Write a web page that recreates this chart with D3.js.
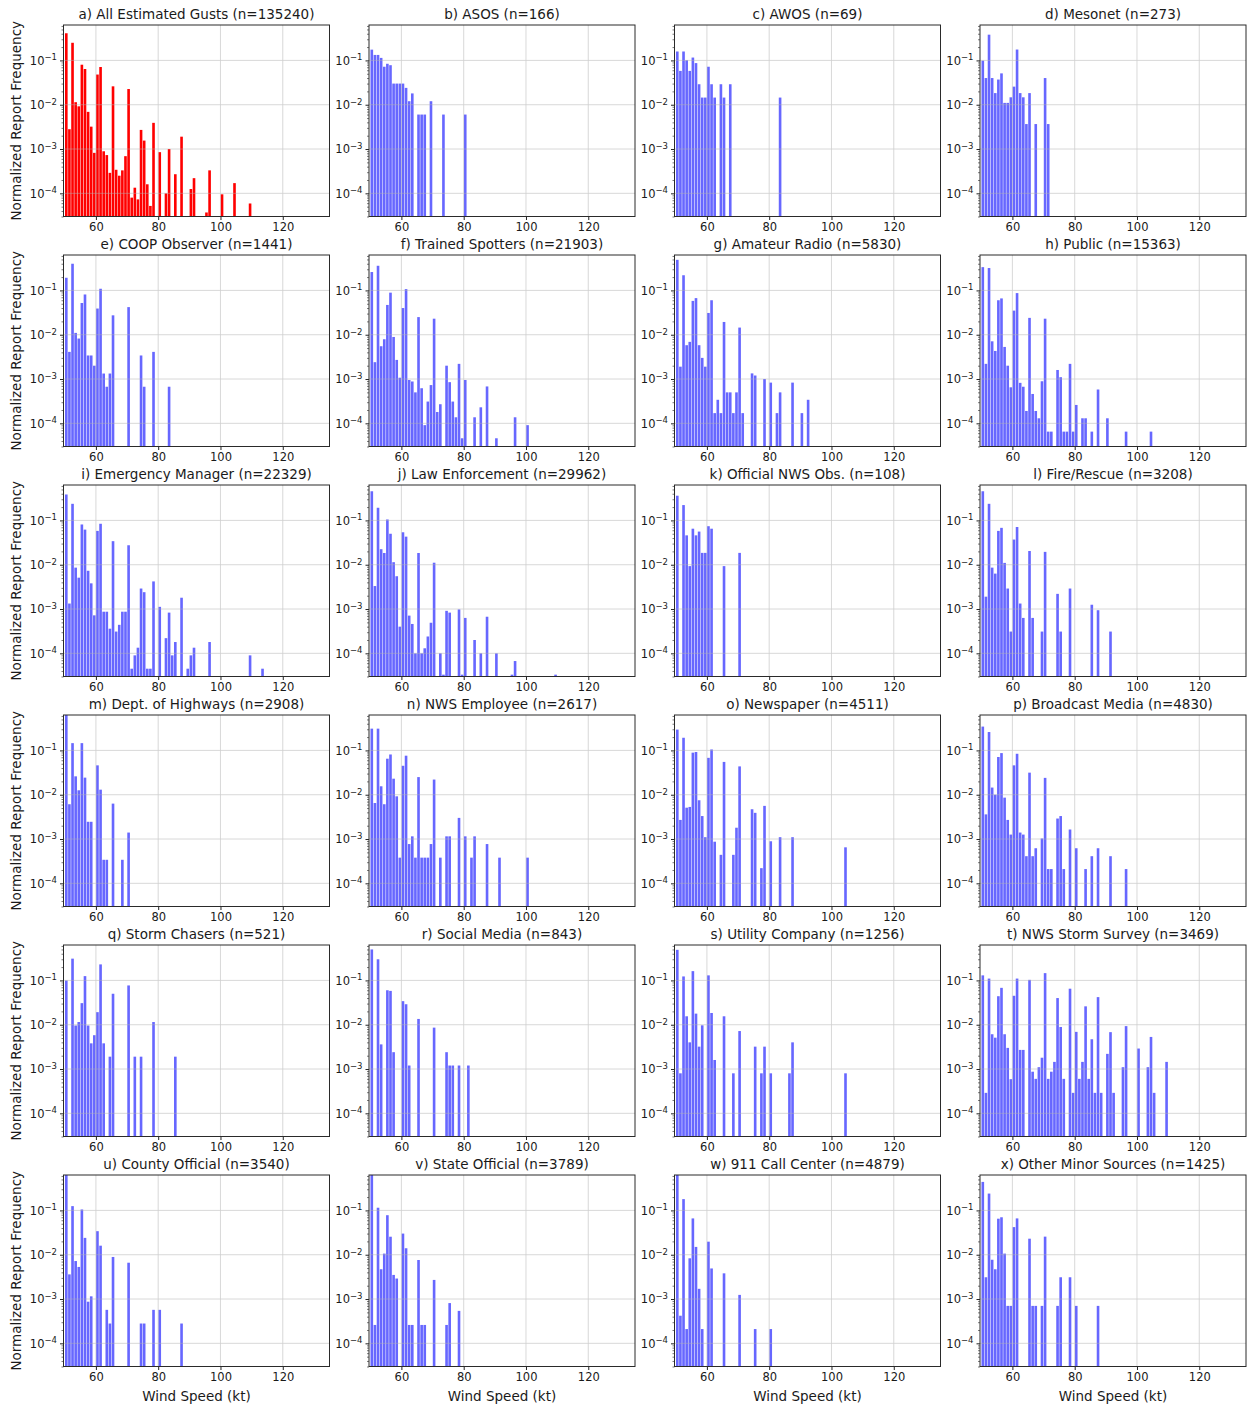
<!DOCTYPE html>
<html><head><meta charset="utf-8">
<script src="https://cdn.jsdelivr.net/npm/d3@7"></script>
<style>
body{margin:0;background:#fff}
svg{display:block}
text{font-family:"DejaVu Sans",sans-serif;fill:#1a1a1a}
</style>
</head><body>
<svg id="chart" width="1249" height="1405"></svg>
<script>
// ---------- DATA ----------
const titles = [
  "a) All Estimated Gusts", "b) ASOS", "c) AWOS", "d) Mesonet",
  "e) COOP Observer", "f) Trained Spotters", "g) Amateur Radio", "h) Public",
  "i) Emergency Manager", "j) Law Enforcement", "k) Official NWS Obs.", "l) Fire/Rescue",
  "m) Dept. of Highways", "n) NWS Employee", "o) Newspaper", "p) Broadcast Media",
  "q) Storm Chasers", "r) Social Media", "s) Utility Company", "t) NWS Storm Survey",
  "u) County Official", "v) State Official", "w) 911 Call Center", "x) Other Minor Sources"
];
const counts = [135240,166,69,273,1441,21903,5830,15363,22329,29962,108,3208,2908,2617,4511,4830,521,843,1256,3469,3540,3789,4879,1425];

// [wind speed bin (kt), normalized frequency]
const panelA = [[50,0.41],[51,0.0028],[52,0.25],[53,0.0114],[54,0.0092],[55,0.08],[56,0.064],[57,0.0069],[58,0.0032],[59,0.00082],[60,0.048],[61,0.071],[62,0.00089],[63,0.00073],[64,0.00029],[65,0.026],[66,0.00034],[67,0.00025],[68,0.00033],[69,0.00069],[70,0.0226],[71,0.00008],[72,0.000134],[73,0.000073],[74,0.0027],[75,0.00155],[76,0.00016],[77,0.000052],[78,0.0039],[80,0.00085],[82,0.0001],[83,0.001],[85,0.00027],[87,0.0019],[90,0.000125],[91,0.00022],[95,0.000037],[96,0.00033],[100,0.000095],[104,0.00017],[109,0.000059]];
const panelB = [[50,0.175],[51,0.133],[52,0.133],[53,0.114],[54,0.072],[55,0.084],[56,0.078],[57,0.030],[58,0.030],[59,0.030],[60,0.030],[61,0.024],[62,0.012],[63,0.018],[65,0.006],[66,0.006],[67,0.006],[69,0.012],[73,0.006],[80,0.006]];
const panelC = [[50,0.159],[51,0.058],[52,0.159],[53,0.101],[54,0.058],[55,0.116],[56,0.087],[57,0.029],[58,0.0145],[59,0.0145],[60,0.072],[61,0.029],[62,0.0145],[64,0.029],[65,0.0145],[67,0.029],[83,0.0145]];
const panelD = [[50,0.099],[51,0.040],[52,0.381],[53,0.040],[54,0.0183],[55,0.037],[56,0.051],[57,0.011],[58,0.011],[59,0.0147],[60,0.0256],[61,0.176],[62,0.0183],[63,0.0147],[64,0.00366],[65,0.0183],[67,0.00366],[70,0.040],[71,0.00366]];
const panelE = [[50,0.193],[51,0.0041],[52,0.40],[53,0.011],[54,0.0082],[55,0.052],[56,0.081],[57,0.0034],[58,0.0034],[59,0.002],[60,0.039],[61,0.109],[62,0.00133],[63,0.00067],[64,0.00133],[65,0.0274],[70,0.042],[74,0.0034],[75,0.00067],[78,0.0041],[83,0.00067]];
const panelF = [[50,0.26],[51,0.0024],[52,0.36],[53,0.0055],[54,0.0079],[55,0.047],[56,0.089],[57,0.0089],[58,0.0027],[59,0.00107],[60,0.040],[61,0.107],[62,0.00095],[63,0.00088],[64,0.0005],[65,0.025],[66,0.00062],[67,0.000091],[68,0.00031],[69,0.00073],[70,0.023],[71,0.00018],[72,0.00027],[74,0.002],[75,0.00085],[76,0.00031],[77,0.000137],[78,0.0022],[79,0.000046],[80,0.00095],[83,0.000137],[85,0.00023],[87,0.00068],[90,0.000046],[96,0.000137],[100,0.000091]];
const panelG = [[50,0.49],[51,0.0019],[52,0.22],[53,0.0058],[54,0.0069],[55,0.058],[56,0.067],[57,0.0058],[58,0.003],[59,0.0019],[60,0.031],[61,0.06],[62,0.00017],[63,0.00034],[64,0.00017],[65,0.0194],[66,0.0005],[67,0.0005],[68,0.00017],[69,0.0005],[70,0.0145],[71,0.00017],[74,0.00134],[75,0.0012],[78,0.001],[80,0.00083],[82,0.00017],[83,0.0005],[87,0.00083],[90,0.00017],[92,0.00034]];
const panelH = [[50,0.335],[51,0.0022],[52,0.32],[53,0.0071],[54,0.0043],[55,0.06],[56,0.066],[57,0.0053],[58,0.002],[59,0.00065],[60,0.035],[61,0.087],[62,0.00082],[63,0.00067],[64,0.00019],[65,0.024],[66,0.00046],[67,0.00019],[68,0.00013],[69,0.00089],[70,0.023],[71,0.000065],[72,0.000065],[74,0.0016],[75,0.0011],[76,0.000065],[77,0.000065],[78,0.0022],[79,0.000065],[80,0.00026],[82,0.00013],[83,0.00013],[85,0.000065],[87,0.00058],[90,0.00013],[96,0.000065],[104,0.000065]];
const panelI = [[50,0.385],[51,0.00133],[52,0.237],[53,0.0086],[54,0.0051],[55,0.081],[56,0.062],[57,0.0073],[58,0.0038],[59,0.00072],[60,0.058],[61,0.084],[62,0.00087],[63,0.00087],[64,0.00036],[65,0.034],[66,0.00031],[67,0.00044],[68,0.00087],[69,0.00087],[70,0.0275],[71,0.000045],[72,0.00009],[73,0.000134],[74,0.0029],[75,0.0024],[76,0.000045],[77,0.000045],[78,0.0042],[80,0.00112],[82,0.00022],[83,0.00083],[84,0.00009],[85,0.00018],[87,0.0018],[89,0.000045],[90,0.00009],[91,0.000134],[96,0.00018],[109,0.00009],[113,0.000045]];
const panelJ = [[50,0.455],[51,0.0033],[52,0.193],[53,0.0224],[54,0.0184],[55,0.105],[56,0.05],[57,0.0114],[58,0.0055],[59,0.0004],[60,0.054],[61,0.043],[62,0.00071],[63,0.00046],[64,0.0001],[65,0.0184],[66,0.0001],[67,0.00013],[68,0.00024],[69,0.00049],[70,0.0111],[72,0.0001],[73,0.000033],[74,0.00091],[75,0.00083],[78,0.00098],[79,0.000033],[80,0.00063],[83,0.0002],[85,0.0001],[87,0.00067],[90,0.0001],[95,0.000033],[96,0.000067],[109,0.000033]];
const panelK = [[50,0.361],[52,0.222],[53,0.046],[54,0.0093],[55,0.065],[56,0.046],[57,0.056],[58,0.0185],[59,0.0185],[60,0.074],[61,0.065],[65,0.0093],[70,0.0185]];
const panelL = [[50,0.455],[51,0.0019],[52,0.237],[53,0.0086],[54,0.0063],[55,0.058],[56,0.068],[57,0.011],[58,0.0029],[59,0.00031],[60,0.037],[61,0.071],[62,0.00133],[63,0.00063],[65,0.0204],[66,0.00063],[69,0.00031],[70,0.0195],[74,0.0022],[75,0.00031],[78,0.0029],[85,0.00125],[87,0.00094],[91,0.00031]];
const panelM = [[50,0.66],[51,0.0061],[52,0.146],[53,0.026],[54,0.0126],[55,0.146],[56,0.0243],[57,0.00245],[58,0.00245],[60,0.046],[61,0.013],[62,0.00034],[63,0.00034],[65,0.0063],[68,0.00034],[70,0.0014]];
const panelN = [[50,0.31],[51,0.0065],[52,0.31],[53,0.0155],[54,0.0061],[55,0.065],[56,0.081],[57,0.023],[58,0.0092],[59,0.00038],[60,0.045],[61,0.076],[62,0.00077],[63,0.00115],[64,0.00038],[65,0.025],[66,0.00038],[67,0.00038],[68,0.00038],[69,0.00077],[70,0.022],[72,0.00038],[74,0.00115],[75,0.00115],[78,0.003],[80,0.00115],[82,0.00038],[83,0.00115],[87,0.00077],[91,0.00038],[100,0.00038]];
const panelO = [[50,0.295],[51,0.0027],[52,0.193],[53,0.0051],[54,0.0053],[55,0.089],[56,0.092],[57,0.0075],[58,0.0033],[59,0.0011],[60,0.068],[61,0.105],[62,0.00087],[64,0.00044],[65,0.055],[68,0.00044],[69,0.0018],[70,0.0436],[74,0.0047],[75,0.0039],[77,0.00022],[78,0.0056],[80,0.00089],[83,0.0011],[87,0.0011],[104,0.00065]];
const panelP = [[50,0.345],[51,0.0036],[52,0.26],[53,0.0145],[54,0.01],[55,0.071],[56,0.087],[57,0.0086],[58,0.0027],[59,0.00126],[60,0.046],[61,0.084],[62,0.0014],[63,0.00126],[64,0.00041],[65,0.0315],[66,0.00041],[67,0.00062],[69,0.00103],[70,0.024],[71,0.00021],[72,0.00021],[74,0.0029],[75,0.0033],[76,0.00021],[78,0.00164],[80,0.00062],[83,0.00021],[85,0.00041],[87,0.00062],[91,0.00041],[96,0.00021]];
const panelQ = [[50,0.0998],[52,0.31],[53,0.0096],[54,0.0115],[55,0.0307],[56,0.125],[57,0.0096],[58,0.0038],[59,0.0058],[60,0.0192],[61,0.23],[62,0.0038],[64,0.0019],[65,0.05],[70,0.077],[72,0.0019],[74,0.0019],[78,0.0115],[85,0.0019]];
const panelR = [[50,0.5],[52,0.3],[53,0.0036],[55,0.06],[56,0.058],[57,0.0024],[60,0.034],[61,0.029],[62,0.0012],[65,0.0135],[70,0.0086],[74,0.0024],[75,0.0012],[76,0.0012],[78,0.0012],[81,0.0012]];
const panelS = [[50,0.49],[51,0.0008],[52,0.123],[53,0.0155],[54,0.004],[55,0.162],[56,0.0178],[57,0.0032],[58,0.0097],[60,0.13],[61,0.0184],[62,0.0016],[65,0.0155],[68,0.0008],[70,0.0072],[75,0.0032],[77,0.0008],[78,0.0032],[80,0.0008],[86,0.0008],[87,0.004],[104,0.0008]];
const panelT = [[50,0.13],[51,0.00029],[52,0.11],[53,0.0061],[54,0.0051],[55,0.044],[56,0.068],[57,0.0061],[58,0.003],[59,0.00059],[60,0.045],[61,0.11],[62,0.0027],[63,0.0027],[65,0.103],[66,0.00087],[67,0.0006],[68,0.0011],[69,0.0018],[70,0.146],[71,0.0006],[72,0.00087],[73,0.00145],[74,0.04],[75,0.0089],[76,0.0006],[78,0.065],[79,0.00029],[80,0.0069],[81,0.0006],[82,0.00145],[83,0.026],[84,0.0006],[85,0.0047],[86,0.00029],[87,0.042],[88,0.00029],[90,0.0022],[91,0.0068],[92,0.00029],[95,0.0011],[96,0.0093],[100,0.0029],[103,0.0011],[104,0.0053],[105,0.00029],[109,0.00145]];
const panelU = [[50,0.66],[51,0.0036],[52,0.125],[53,0.0072],[54,0.0053],[55,0.105],[56,0.024],[57,0.00087],[58,0.00115],[60,0.034],[61,0.016],[63,0.00057],[64,0.00028],[65,0.0089],[70,0.0066],[74,0.00028],[75,0.00028],[78,0.00057],[80,0.00057],[87,0.00028]];
const panelV = [[50,0.70],[51,0.00026],[52,0.115],[53,0.0047],[54,0.0106],[55,0.078],[56,0.0255],[57,0.0035],[58,0.0029],[60,0.03],[61,0.014],[62,0.00026],[63,0.00026],[65,0.0076],[66,0.00026],[67,0.00026],[70,0.0027],[74,0.00026],[75,0.00081],[78,0.00054]];
const panelW = [[50,0.70],[51,0.00042],[52,0.18],[53,0.00021],[54,0.0083],[55,0.066],[56,0.015],[57,0.0017],[58,0.00021],[60,0.0197],[61,0.0049],[65,0.0038],[70,0.00124],[75,0.00021],[80,0.00021]];
const panelX = [[50,0.44],[51,0.0031],[52,0.24],[53,0.0077],[54,0.0047],[55,0.065],[56,0.07],[57,0.0106],[58,0.0007],[59,0.0007],[60,0.042],[61,0.066],[65,0.023],[66,0.0007],[67,0.0007],[69,0.0007],[70,0.0256],[74,0.0007],[75,0.0031],[78,0.0031],[80,0.0007],[87,0.0007]];

const panelData = [panelA,panelB,panelC,panelD,panelE,panelF,panelG,panelH,panelI,panelJ,panelK,panelL,
                   panelM,panelN,panelO,panelP,panelQ,panelR,panelS,panelT,panelU,panelV,panelW,panelX];
const xTicks = [60, 80, 100, 120];
const yMajorExps = [-1, -2, -3, -4];
const xDomain = [49.6, 135];
const yDomain = [3e-5, 0.63];

// ---------- LAYOUT ----------
const colX = [63.5, 369, 674.5, 980];
const rowY = [25, 255, 485, 715, 945, 1175];
const W = 266, H = 191.5;

const svg = d3.select("#chart");
const x = d3.scaleLinear().domain(xDomain).range([0, W]);
const y = d3.scaleLog().domain(yDomain).range([H, 0]);

const yMajor = yMajorExps.map(e => Math.pow(10, e));
const yMinor = [];
for (let e = -5; e <= 0; e++) for (let m = 2; m <= 9; m++) {
  const v = m * Math.pow(10, e);
  if (v >= yDomain[0] && v <= yDomain[1]) yMinor.push(v);
}

svg.append("defs").append("clipPath").attr("id", "plotclip")
  .append("rect").attr("width", W).attr("height", H);

panelData.forEach((data, i) => {
  const col = i % 4, row = Math.floor(i / 4);
  const g = svg.append("g").attr("transform", `translate(${colX[col]},${rowY[row]})`);
  const color = i === 0 ? "#ff0000" : "#6767ff";

  // bars
  g.append("g").attr("clip-path", "url(#plotclip)")
    .selectAll("rect").data(data).join("rect")
    .attr("x", d => x(d[0] + 0.08))
    .attr("width", d => x(d[0] + 0.92) - x(d[0] + 0.08))
    .attr("y", d => y(d[1]))
    .attr("height", d => H - y(d[1]))
    .attr("fill", color);

  // grid
  const grid = g.append("g").attr("stroke", "#b0b0b0").attr("stroke-width", 0.8).attr("opacity", 0.6);
  grid.selectAll("line.vx").data(xTicks).join("line")
    .attr("x1", d => x(d)).attr("x2", d => x(d)).attr("y1", 0).attr("y2", H);
  grid.selectAll("line.hy").data(yMajor).join("line")
    .attr("x1", 0).attr("x2", W).attr("y1", d => y(d)).attr("y2", d => y(d));

  // x axis
  const xa = g.append("g").attr("transform", `translate(0,${H})`)
    .call(d3.axisBottom(x).tickValues(xTicks).tickSize(3.5).tickPadding(3).tickFormat(d3.format("d")));
  xa.select(".domain").remove();
  xa.selectAll("text").attr("font-size", 11.5).attr("font-family", "DejaVu Sans, sans-serif").attr("fill", "#1a1a1a");
  xa.selectAll("line").attr("stroke", "#222");

  // y axis minor
  const yam = g.append("g").call(d3.axisLeft(y).tickValues(yMinor).tickSize(2).tickFormat(""));
  yam.select(".domain").remove();
  yam.selectAll("line").attr("stroke", "#222").attr("stroke-width", 0.6);

  // y axis major
  const ya = g.append("g").call(d3.axisLeft(y).tickValues(yMajor).tickSize(3.5).tickPadding(3));
  ya.select(".domain").remove();
  ya.selectAll("line").attr("stroke", "#222");
  ya.selectAll("text").each(function(d) {
    const t = d3.select(this);
    const e = Math.round(Math.log10(d));
    t.text(null).attr("font-size", 11.5).attr("font-family", "DejaVu Sans, sans-serif").attr("fill", "#1a1a1a");
    t.append("tspan").text("10");
    t.append("tspan").attr("font-size", 8.5).attr("dy", "-0.5em").text("\u2212" + Math.abs(e));
  });

  // frame
  g.append("rect").attr("width", W).attr("height", H)
    .attr("fill", "none").attr("stroke", "#2a2a2a").attr("stroke-width", 1);

  // title
  g.append("text").attr("x", W / 2).attr("y", -6).attr("text-anchor", "middle")
    .attr("font-size", 13.5).text(`${titles[i]} (n=${counts[i]})`);

  if (col === 0) {
    svg.append("text")
      .attr("transform", `translate(21,${rowY[row] + H / 2}) rotate(-90)`)
      .attr("text-anchor", "middle").attr("font-size", 13.5)
      .text("Normalized Report Frequency");
  }
  if (row === 5) {
    g.append("text").attr("x", W / 2).attr("y", H + 34).attr("text-anchor", "middle")
      .attr("font-size", 13.5).text("Wind Speed (kt)");
  }
});
</script>
</body></html>
